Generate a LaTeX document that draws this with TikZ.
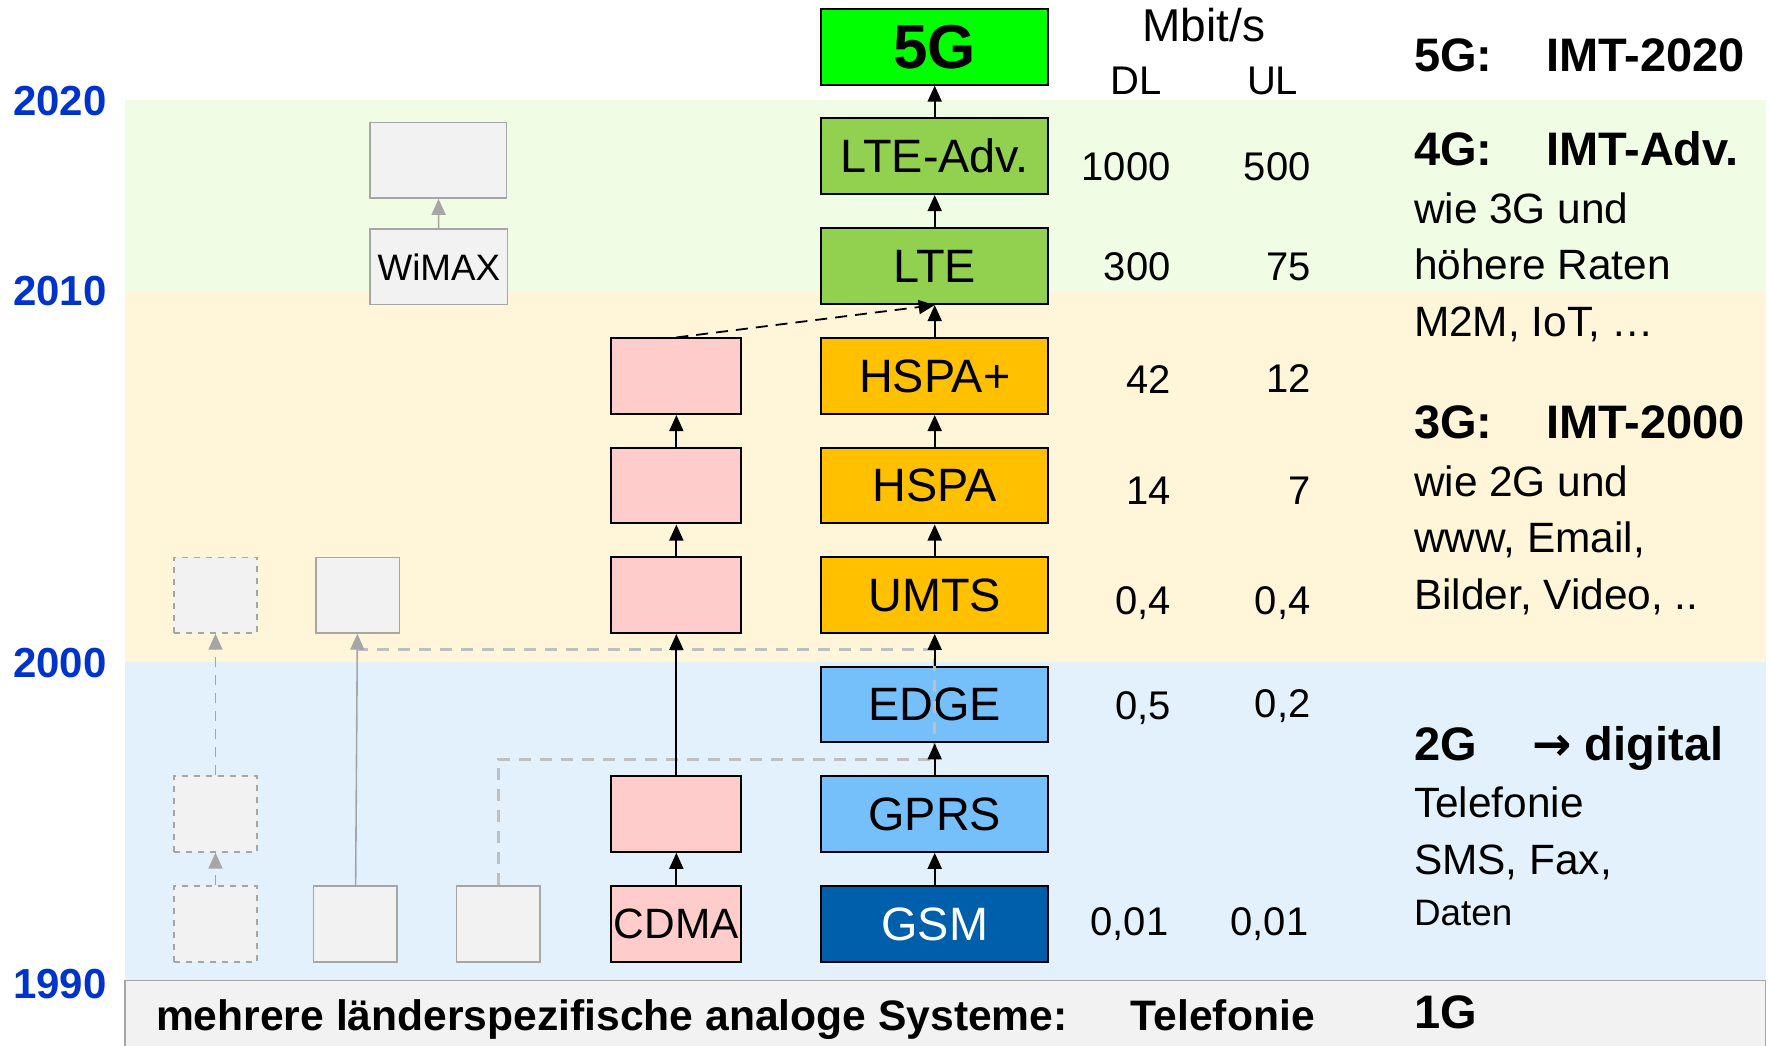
\documentclass[tikz,border=0pt]{standalone}
\usepackage{fontspec}
\setmainfont{Liberation Sans}
\newfontfamily\pfeilfont{DejaVu Sans}
\usetikzlibrary{arrows.meta}

\definecolor{bandgruen}{HTML}{F0FCE4}
\definecolor{bandgelb}{HTML}{FFF5D9}
\definecolor{bandblau}{HTML}{E3F1FC}
\definecolor{kastengrau}{HTML}{F2F2F2}
\definecolor{rahmengrau}{HTML}{A6A6A6}
\definecolor{strichgrau}{HTML}{BFBFBF}
\definecolor{gruenfuenf}{HTML}{00FF00}
\definecolor{gruenlte}{HTML}{92D050}
\definecolor{gelbhspa}{HTML}{FFC000}
\definecolor{blauedge}{HTML}{75BFFB}
\definecolor{blaugsm}{HTML}{005FAA}
\definecolor{rosa}{HTML}{FFCCCC}
\definecolor{jahrblau}{HTML}{0033CC}

\newcommand{\boxfont}{\fontsize{23.4pt}{27pt}\selectfont}
\newcommand{\infofont}{\fontsize{21.2pt}{25pt}\selectfont}
\newcommand{\kopffont}{\fontsize{23.5pt}{27pt}\selectfont\bfseries}
\newcommand{\ratefont}{\fontsize{20pt}{24pt}\selectfont}
\newcommand{\jahrfont}{\fontsize{21pt}{25pt}\selectfont\bfseries}
\newcommand{\kleinfont}{\fontsize{18.4pt}{22pt}\selectfont}

\tikzset{
  sys/.style={draw, line width=1pt, minimum width=113.4pt, minimum height=37.8pt, inner sep=0pt, font=\boxfont},
  rosabox/.style={draw, line width=1pt, fill=rosa, minimum width=64.9pt, minimum height=37.8pt, inner sep=0pt},
  graubox/.style={draw=rahmengrau, line width=0.8pt, fill=kastengrau, minimum width=41.7pt, minimum height=37.8pt, inner sep=0pt},
  pfeil/.style={-{Triangle[length=8pt,width=7pt]}, line width=0.9pt},
  graupfeil/.style={pfeil, draw=rahmengrau, line width=0.8pt},
  graustrich/.style={draw=strichgrau, line width=1.5pt, dash pattern=on 6pt off 4.5pt},
  jahr/.style={font=\jahrfont, text=jahrblau, inner sep=0pt},
  rate/.style={anchor=base east, font=\ratefont, inner sep=0pt},
  info/.style={anchor=base west, font=\infofont, inner sep=0pt},
  kopf/.style={anchor=base west, font=\kopffont, inner sep=0pt}
}

\begin{document}
\begin{tikzpicture}[x=0.564pt,y=-0.564pt]
  \useasboundingbox (0,0) rectangle (1568,927);

  % Zeitbaender
  \fill[bandgruen] (111,89) rectangle (1565,258);
  \fill[bandgelb] (111,258) rectangle (1565,587);
  \fill[bandblau] (111,587) rectangle (1565,869);
  \draw[draw=rahmengrau, fill=kastengrau, line width=0.8pt] (111,869) rectangle (1565,940);

  \node[jahr] (j2020) at (53,90) {2020};
  \node[jahr] (j2010) at (53,258) {2010};
  \node[jahr] (j2000) at (53,588) {2000};
  \node[jahr] (j1990) at (53,872) {1990};

  % Hauptlinie GSM -> 5G
  \node[sys, fill=gruenfuenf] (fuenfG) at (828.5,41.5) {\fontsize{31pt}{31pt}\selectfont\bfseries 5G};
  \node[sys, fill=gruenlte] (lteadv) at (828.5,138.5) {LTE-Adv.};
  \node[sys, fill=gruenlte] (lte) at (828.5,236) {LTE};
  \node[sys, fill=gelbhspa] (hspap) at (828.5,333.5) {HSPA+};
  \node[sys, fill=gelbhspa] (hspa) at (828.5,430.5) {HSPA};
  \node[sys, fill=gelbhspa] (umts) at (828.5,527.5) {UMTS};
  \node[sys, fill=blauedge] (edge) at (828.5,624.5) {EDGE};
  \node[sys, fill=blauedge] (gprs) at (828.5,721.5) {GPRS};
  \node[sys, fill=blaugsm, text=white] (gsm) at (828.5,819) {GSM};

  % CDMA-Linie
  \node[rosabox, font=\infofont] (cdma) at (599.5,819) {CDMA};
  \node[rosabox] (cdmaB) at (599.5,721.5) {};
  \node[rosabox] (cdmaC) at (599.5,527.5) {};
  \node[rosabox] (cdmaD) at (599.5,430.5) {};
  \node[rosabox] (cdmaE) at (599.5,333.5) {};

  % sonstige Systeme
  \node[graubox, minimum width=68.8pt, font=\kleinfont] (wimax) at (389,236.5) {WiMAX};
  \node[graubox, minimum width=68.2pt] (wimaxB) at (388.5,142) {};
  \node[graubox, dashed] (sonstA) at (191,819) {};
  \node[graubox, dashed] (sonstB) at (191,721.5) {};
  \node[graubox, dashed] (sonstC) at (191,527.5) {};
  \node[graubox] (andereA) at (315,819) {};
  \node[graubox] (andereB) at (317,527.5) {};
  \node[graubox] (drittA) at (441.5,819) {};

  % graue Verbindung
  \coordinate (knickA) at (828.5,673);
  \coordinate (knickB) at (828.5,576);
  \draw[graustrich] (drittA.north) |- (knickA) -- (knickB) -- (andereB.south |- knickB);

  \draw[graupfeil, dash pattern=on 5pt off 4pt] (sonstA) -- (sonstB);
  \draw[graupfeil, dash pattern=on 5pt off 4pt] (sonstB) -- (sonstC);
  \draw[graupfeil] (andereA) -- (andereB);
  \draw[graupfeil] (wimax) -- (wimaxB);

  \foreach \von/\nach in {gsm/gprs, gprs/edge, edge/umts, umts/hspa, hspa/hspap, hspap/lte, lte/lteadv, lteadv/fuenfG, cdma/cdmaB, cdmaB/cdmaC, cdmaC/cdmaD, cdmaD/cdmaE}
    \draw[pfeil] (\von) -- (\nach);
  \draw[pfeil, dash pattern=on 6pt off 4pt] (cdmaE.north) -- (lte.south);

  % Datenraten
  \node[anchor=base, font=\fontsize{23pt}{27pt}\selectfont, inner sep=0pt] (mbit) at (1067,37) {Mbit/s};
  \node[anchor=base, font=\ratefont, inner sep=0pt] (dl) at (1007,84) {DL};
  \node[anchor=base, font=\ratefont, inner sep=0pt] (ul) at (1128,84) {UL};
  \node[rate] (dlA) at (1038,160) {1000};  \node[rate] (ulA) at (1162,160) {500};
  \node[rate] (dlB) at (1038,249) {300};   \node[rate] (ulB) at (1162,249) {75};
  \node[rate] (dlC) at (1038,349) {42};    \node[rate] (ulC) at (1162,348) {12};
  \node[rate] (dlD) at (1038,447) {14};    \node[rate] (ulD) at (1162,447) {7};
  \node[rate] (dlE) at (1038,545) {0,4};   \node[rate] (ulE) at (1162,545) {0,4};
  \node[rate] (dlF) at (1038,638) {0,5};   \node[rate] (ulF) at (1162,636) {0,2};
  \node[rate] (dlG) at (1036,829) {0,01};  \node[rate] (ulG) at (1160,829) {0,01};

  % Generationen
  \node[kopf] (gen5) at (1253,63) {5G:};   \node[kopf] (imt5) at (1370,63) {IMT-2020};
  \node[kopf] (gen4) at (1253,147) {4G:};  \node[kopf] (imt4) at (1370,147) {IMT-Adv.};
  \node[info] (vierA) at (1253,198) {wie 3G und};
  \node[info] (vierB) at (1253,248) {höhere Raten};
  \node[info] (vierC) at (1253,298) {M2M, IoT, …};
  \node[kopf] (gen3) at (1253,389) {3G:};  \node[kopf] (imt3) at (1370,389) {IMT-2000};
  \node[info] (dreiA) at (1253,440) {wie 2G und};
  \node[info] (dreiB) at (1253,490) {www, Email,};
  \node[info] (dreiC) at (1253,540) {Bilder, Video, ..};
  \node[kopf] (gen2) at (1253,674) {2G};   \node[kopf] (digital) at (1358,674) {{\pfeilfont →} digital};
  \node[info] (zweiA) at (1253,725) {Telefonie};
  \node[info] (zweiB) at (1253,775) {SMS, Fax,};
  \node[info, font=\kleinfont] (zweiC) at (1253,820) {Daten};
  \node[kopf] (gen1) at (1253,912) {1G};

  \node[anchor=base west, inner sep=0pt, font=\fontsize{21.3pt}{25pt}\selectfont\bfseries] (analog) at (138,913) {mehrere länderspezifische analoge Systeme:};
  \node[anchor=base west, inner sep=0pt, font=\fontsize{21.3pt}{25pt}\selectfont\bfseries] (telefonie) at (1002,913) {Telefonie};
\end{tikzpicture}
\end{document}
